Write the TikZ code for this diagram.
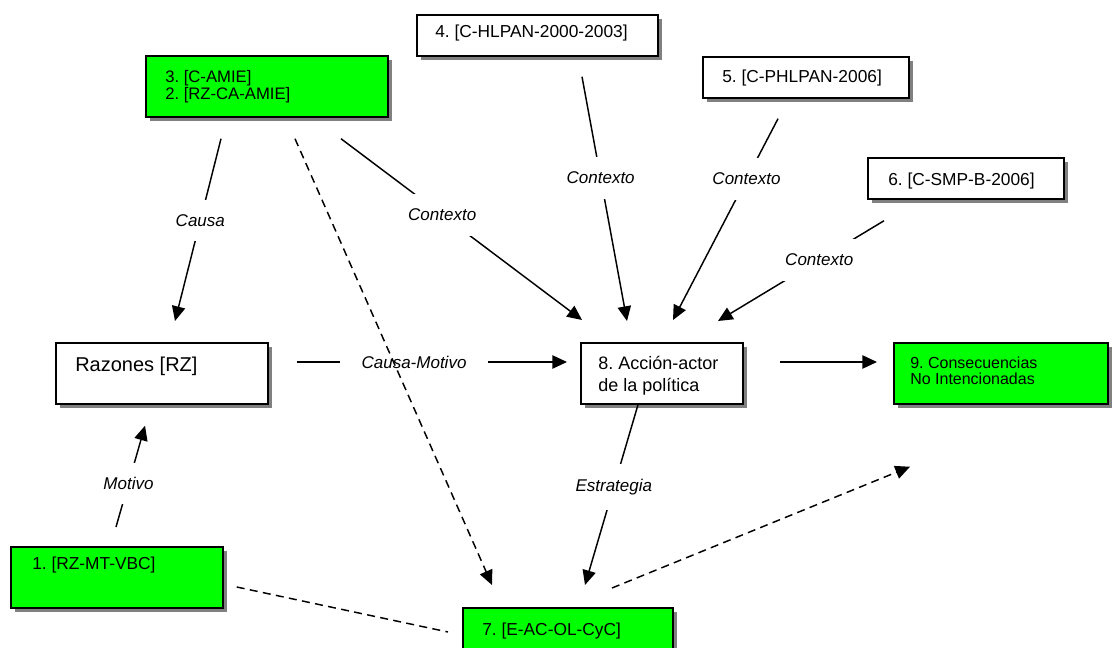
\documentclass[tikz,border=0pt]{standalone}
\usepackage{fontspec}
\setmainfont{Liberation Sans}
\usetikzlibrary{arrows.meta,shadows}
\frenchspacing

\definecolor{verde}{HTML}{00FF00}
\tikzset{
  box/.style={draw,line width=1.3pt,anchor=north west,
    drop shadow={shadow xshift=3pt,shadow yshift=-3pt,fill=gray,opacity=1}},
  boxsize/.style 2 args={minimum width=#1*0.75pt,minimum height=#2*0.75pt},
  txt/.style={anchor=north west,inner sep=0pt,align=left,font=\fontsize{13}{15}\selectfont},
  lbl/.style={fill=white,inner xsep=16pt,inner ysep=11pt,font=\itshape\fontsize{12.75}{15}\selectfont},
  arr/.style={line width=1.1pt,-{Triangle[length=11pt,width=10pt]}},
  dsh/.style={line width=1.1pt,dash pattern=on 6pt off 4pt},
}

\begin{document}
\begin{tikzpicture}[x=0.75pt,y=-0.75pt]
\useasboundingbox (0,0) rectangle (1117,648);
% boxes
\node (b3) at (145,55) [box,fill=verde,boxsize={242}{61}] {};
\node (b4) at (416,14) [box,fill=white,boxsize={241}{41}] {};
\node (b5) at (702,56) [box,fill=white,boxsize={206}{41}] {};
\node (b6) at (867,157) [box,fill=white,boxsize={196}{41}] {};
\node (rz) at (55,342) [box,fill=white,boxsize={212}{61}] {};
\node (b8) at (580,342) [box,fill=white,boxsize={162}{61}] {};
\node (b9) at (893,342) [box,fill=verde,boxsize={214}{61}] {};
\node (b1) at (10,546) [box,fill=verde,boxsize={212}{61}] {};
\node (b7) at (462,607) [box,fill=verde,boxsize={210}{61}] {};
% box texts
\node (t3) at ([shift={(20,15)}]b3.north west) [txt,font=\fontsize{12.5}{12.5}\selectfont] {3. [C-AMIE]\\2. [RZ-CA-AMIE]};
\node (t4) at ([shift={(19,11)}]b4.north west) [txt] {4. [C-HLPAN-2000-2003]};
\node (t5) at ([shift={(20,14)}]b5.north west) [txt] {5. [C-PHLPAN-2006]};
\node (t6) at ([shift={(21,16)}]b6.north west) [txt] {6. [C-SMP-B-2006]};
\node (trz) at ([shift={(20,15)}]rz.north west) [txt,font=\fontsize{15}{18}\selectfont] {Razones [RZ]};
\node (t8) at ([shift={(18,14)}]b8.north west) [txt,font=\fontsize{13.5}{16.5}\selectfont] {8. Acción-actor\\de la política};
\node (t9) at ([shift={(17,15)}]b9.north west) [txt,font=\fontsize{12}{12}\selectfont] {9. Consecuencias\\No Intencionadas};
\node (t1) at ([shift={(22,11)}]b1.north west) [txt] {1. [RZ-MT-VBC]};
\node (t7) at ([shift={(20,16)}]b7.north west) [txt] {7. [E-AC-OL-CyC]};
% solid arrows
\draw[arr] ([shift={(76,21)}]b3.south west) -- node[lbl,pos=0.45] {Causa} ([shift={(120,-21)}]rz.north west);
\draw[arr] ([shift={(196,21)}]b3.south west) -- node[lbl,pos=0.42] {Contexto} ([shift={(2,-22)}]b8.north west);
\draw[arr] ([shift={(166,20)}]b4.south west) -- node[lbl,pos=0.415] {Contexto} ([shift={(47,-21)}]b8.north west);
\draw[arr] ([shift={(76,20)}]b5.south west) -- node[lbl,pos=0.3] {Contexto} ([shift={(93,-22)}]b8.north west);
\draw[arr] ([shift={(17,21)}]b6.south west) -- node[lbl,pos=0.39] {Contexto} ([shift={(138,-21)}]b8.north west);
\draw[arr] ([shift={(28,20)}]rz.north east) -- node[lbl,pos=0.434] {Causa-Motivo} ([shift={(-13,20)}]b8.north west);
\draw[arr] ([shift={(36,20)}]b8.north east) -- ([shift={(-16,20)}]b9.north west);
\draw[arr] ([shift={(106,-19)}]b1.north west) -- node[lbl,pos=0.43] {Motivo} ([shift={(90,21)}]rz.south west);
\draw[arr] ([shift={(58,0)}]b8.south west) -- node[lbl,pos=0.456] {Estrategia} ([shift={(123,-22)}]b7.north west);
% dashed links
\draw[dsh,-{Triangle[length=11pt,width=10pt]}] ([shift={(150,21)}]b3.south west) -- ([shift={(30,-22)}]b7.north west);
\draw[dsh,-{Triangle[length=11pt,width=10pt]}] ([shift={(150,-19)}]b7.north west) -- ([shift={(17,62)}]b9.south west);
\draw[dsh] ([shift={(13,41)}]b1.north east) -- ([shift={(-14,25)}]b7.north west);
\end{tikzpicture}
\end{document}
